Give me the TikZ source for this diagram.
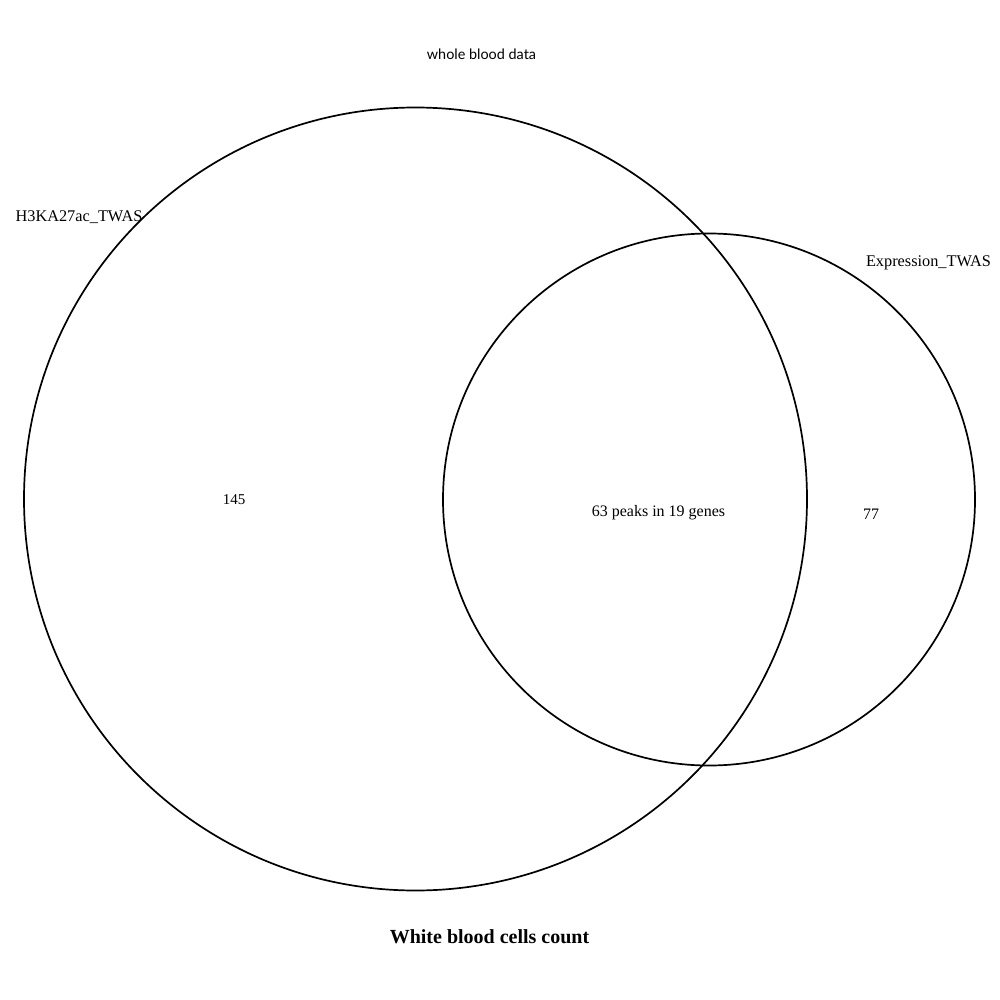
\documentclass[tikz,border=0pt]{standalone}
\usepackage{fontspec}
\setmainfont{Liberation Serif}
\newfontfamily\labelsans{Lato}
\begin{document}
\begin{tikzpicture}[x=1pt,y=-1pt,
  setcircle/.style={draw=black,line width=1.7pt},
  setlabel/.style={font=\fontsize{16.3}{18}\selectfont,inner sep=0pt},
  countlabel/.style={font=\fontsize{16}{18}\selectfont,inner sep=0pt}]
\useasboundingbox[fill=white] (0,0) rectangle (1000,1000);
% the two sets
\draw[setcircle] (415.5,499) circle[radius=391.5];
\draw[setcircle] (709,499.5) circle[radius=266];
% set names and counts
\node[setlabel] (setA) at (79,217) {H3KA27ac\_TWAS};
\node[setlabel] (setB) at (928.5,263) {Expression\_TWAS};
\node[countlabel,font=\fontsize{15}{17}\selectfont] (onlyA) at (234,500) {145};
\node[countlabel] (both) at (658.5,513) {63 peaks in 19 genes};
\node[countlabel] (onlyB) at (871,514) {77};
% heading and caption
\node[inner sep=0pt,font=\labelsans\fontsize{14.4}{17}\selectfont] (top) at (481.5,54) {whole blood data};
\node[inner sep=0pt,font=\bfseries\fontsize{20}{22}\selectfont] (caption) at (489.5,937) {White blood cells count};
\end{tikzpicture}
\end{document}
